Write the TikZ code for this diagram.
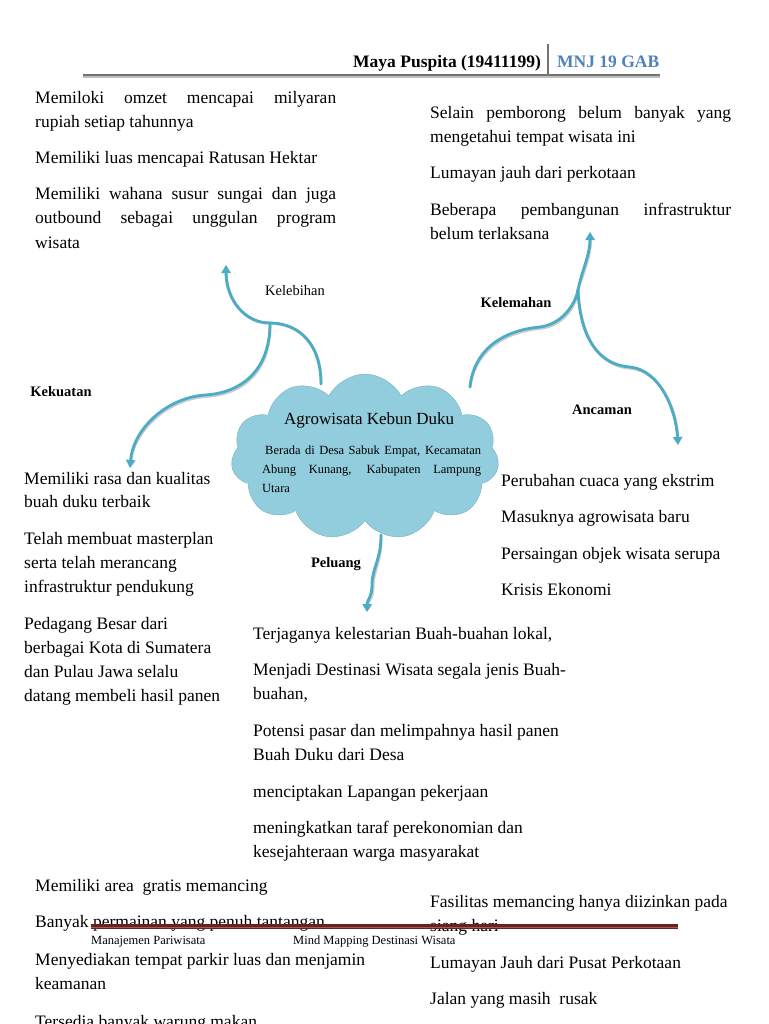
\documentclass[tikz,border=0pt]{standalone}
\usepackage{fontspec}
\setmainfont{Liberation Serif}
\usetikzlibrary{shapes.symbols,arrows.meta}
\definecolor{cloudblue}{RGB}{146,205,221}
\definecolor{connteal}{RGB}{75,172,198}
\definecolor{hdrblue}{RGB}{79,129,189}
\definecolor{ftrdark}{RGB}{99,36,35}
\definecolor{ftrlight}{RGB}{175,85,82}
\begin{document}
\begin{tikzpicture}[x=1pt,y=-1pt,
  txt/.style={anchor=base west, inner sep=0pt, font=\fontsize{17.5}{24}\selectfont},
  lbl/.style={inner sep=0pt, font=\fontsize{14.5}{16}\selectfont\bfseries},
  lblr/.style={inner sep=0pt, font=\fontsize{14.5}{16}\selectfont},
  small/.style={anchor=base west, inner sep=0pt, font=\fontsize{12.5}{15}\selectfont},
  conn/.style={draw=connteal, line width=2.8pt, line cap=round},
  connarrow/.style={conn, -{Triangle[width=9pt,length=8pt]}},
  shadowline/.style={draw=black!20, line width=2.8pt, line cap=round, shift={(1.2,1.4)}},
  shadowarrow/.style={shadowline, -{Triangle[width=9pt,length=8pt]}}
]
\useasboundingbox (0,0) rectangle (768,1024);

% header
\draw[black!25, line width=2pt] (83,77) -- (660,77);
\draw[black!55, line width=1.6pt] (83,75) -- (660,75);
\draw[black!55, line width=1.6pt] (548,44) -- (548,75);
\node[anchor=base west, inner sep=0pt, font=\fontsize{17.5}{20}\selectfont\bfseries] (hname) at (353,68) {Maya Puspita (19411199)};
\node[anchor=base west, inner sep=0pt, font=\fontsize{17.5}{20}\selectfont\bfseries, text=hdrblue] (hclass) at (557,68) {MNJ 19 GAB};

% cloud
\node[cloud, cloud puffs=11, cloud puff arc=125, aspect=1.7, minimum width=268pt, minimum height=166pt, inner sep=0pt, fill=cloudblue, draw=cloudblue!85!black, line width=0.4pt] (cloud) at (365,457) {};
\node[anchor=base west, inner sep=0pt, font=\fontsize{17}{20}\selectfont] (ctitle) at (284,424) {Agrowisata Kebun Duku};
\node[small] (csub1) at (265,454) {\makebox[216pt][s]{Berada di Desa Sabuk Empat, Kecamatan}};
\node[small] (csub2) at (262,473) {\makebox[219pt][s]{Abung Kunang, Kabupaten Lampung}};
\node[small] (csub3) at (262,492) {Utara};

% connector coordinates
\coordinate (cL) at (321,384);
\coordinate (jL) at (270,323);
\coordinate (aKel) at (226,265);
\coordinate (aKek) at (130,468);
\coordinate (cR) at (470,387);
\coordinate (jR) at (578,290);
\coordinate (aKlm) at (590,232);
\coordinate (aAnc) at (678,445);
\coordinate (cB) at (381,535);
\coordinate (aPel) at (367,612);

% shadows
\draw[shadowline] (cL) .. controls (321,345) and (300,323) .. (jL);
\draw[shadowarrow] (jL) .. controls (245,323) and (226,300) .. (aKel);
\draw[shadowarrow] (jL) .. controls (270,372) and (240,393) .. (205,395) .. controls (165,398) and (133,430) .. (aKek);
\draw[shadowline] (cR) .. controls (474,348) and (505,330) .. (540,327) .. controls (562,324) and (575,305) .. (jR);
\draw[shadowarrow] (jR) .. controls (582,270) and (590,255) .. (aKlm);
\draw[shadowarrow] (jR) .. controls (580,340) and (600,365) .. (630,367) .. controls (660,370) and (676,410) .. (aAnc);
\draw[shadowarrow] (cB) .. controls (381,560) and (372,568) .. (372,585) .. controls (372,597) and (367,600) .. (aPel);
% connectors
\draw[conn] (cL) .. controls (321,345) and (300,323) .. (jL);
\draw[connarrow] (jL) .. controls (245,323) and (226,300) .. (aKel);
\draw[connarrow] (jL) .. controls (270,372) and (240,393) .. (205,395) .. controls (165,398) and (133,430) .. (aKek);
\draw[conn] (cR) .. controls (474,348) and (505,330) .. (540,327) .. controls (562,324) and (575,305) .. (jR);
\draw[connarrow] (jR) .. controls (582,270) and (590,255) .. (aKlm);
\draw[connarrow] (jR) .. controls (580,340) and (600,365) .. (630,367) .. controls (660,370) and (676,410) .. (aAnc);
\draw[connarrow] (cB) .. controls (381,560) and (372,568) .. (372,585) .. controls (372,597) and (367,600) .. (aPel);

% labels
\node[lblr] (kelebihan) at (295,291) {Kelebihan};
\node[lbl] (kelemahan) at (516,303) {Kelemahan};
\node[lbl] (kekuatan) at (61,392) {Kekuatan};
\node[lbl] (ancaman) at (602,410) {Ancaman};
\node[lbl] (peluang) at (336,564) {Peluang};

% top-left
\node[txt] (tl1) at (35,104) {\makebox[301pt][s]{Memiloki omzet mencapai milyaran}};
\node[txt] (tl2) at (35,128) {rupiah setiap tahunnya};
\node[txt] (tl3) at (35,164) {Memiliki luas mencapai Ratusan Hektar};
\node[txt] (tl4) at (35,200) {\makebox[301pt][s]{Memiliki wahana susur sungai dan juga}};
\node[txt] (tl5) at (35,224) {\makebox[301pt][s]{outbound sebagai unggulan program}};
\node[txt] (tl6) at (35,248) {wisata};

% top-right
\node[txt] (tr1) at (430,119) {\makebox[301pt][s]{Selain pemborong belum banyak yang}};
\node[txt] (tr2) at (430,143) {mengetahui tempat wisata ini};
\node[txt] (tr3) at (430,179) {Lumayan jauh dari perkotaan};
\node[txt] (tr4) at (430,216) {\makebox[301pt][s]{Beberapa pembangunan infrastruktur}};
\node[txt] (tr5) at (430,240) {belum terlaksana};

% left middle
\node[txt] (lm1) at (24,484) {Memiliki rasa dan kualitas};
\node[txt] (lm2) at (24,507) {buah duku terbaik};
\node[txt] (lm3) at (24,544) {Telah membuat masterplan};
\node[txt] (lm4) at (24,568) {serta telah merancang};
\node[txt] (lm5) at (24,592) {infrastruktur pendukung};
\node[txt] (lm6) at (24,629) {Pedagang Besar dari};
\node[txt] (lm7) at (24,653) {berbagai Kota di Sumatera};
\node[txt] (lm8) at (24,677) {dan Pulau Jawa selalu};
\node[txt] (lm9) at (24,701) {datang membeli hasil panen};

% right middle
\node[txt] (rm1) at (501,486) {Perubahan cuaca yang ekstrim};
\node[txt] (rm2) at (501,522) {Masuknya agrowisata baru};
\node[txt] (rm3) at (501,559) {Persaingan objek wisata serupa};
\node[txt] (rm4) at (501,595) {Krisis Ekonomi};

% bottom center
\node[txt] (bc1) at (253,639) {Terjaganya kelestarian Buah-buahan lokal,};
\node[txt] (bc2) at (253,675) {Menjadi Destinasi Wisata segala jenis Buah-};
\node[txt] (bc3) at (253,699) {buahan,};
\node[txt] (bc4) at (253,736) {Potensi pasar dan melimpahnya hasil panen};
\node[txt] (bc5) at (253,760) {Buah Duku dari Desa};
\node[txt] (bc6) at (253,797) {menciptakan Lapangan pekerjaan};
\node[txt] (bc7) at (253,833) {meningkatkan taraf perekonomian dan};
\node[txt] (bc8) at (253,857) {kesejahteraan warga masyarakat};

% bottom left
\node[txt] (bl1) at (35,891) {Memiliki area\ \ gratis memancing};
\node[txt] (bl2) at (35,927) {Banyak permainan yang penuh tantangan};
\node[txt] (bl3) at (35,965) {Menyediakan tempat parkir luas dan menjamin};
\node[txt] (bl4) at (35,989) {keamanan};
\node[txt] (bl5) at (35,1027.5) {Tersedia banyak warung makan};

% bottom right
\node[txt] (br1) at (430,907) {Fasilitas memancing hanya diizinkan pada};
\node[txt] (br2) at (430,931) {siang hari};
\node[txt] (br3) at (430,968) {Lumayan Jauh dari Pusat Perkotaan};
\node[txt] (br4) at (430,1004) {Jalan yang masih\ \ rusak};

% footer
\draw[ftrlight, line width=5pt] (91,926.8) -- (678,926.8);
\draw[ftrdark, line width=2.4pt] (91,925.4) -- (678,925.4);
\draw[ftrdark, line width=1.4pt] (91,928.7) -- (678,928.7);
\node[small] (f1) at (91,944) {Manajemen Pariwisata};
\node[small] (f2) at (293,944) {Mind Mapping Destinasi Wisata};
\end{tikzpicture}
\end{document}
